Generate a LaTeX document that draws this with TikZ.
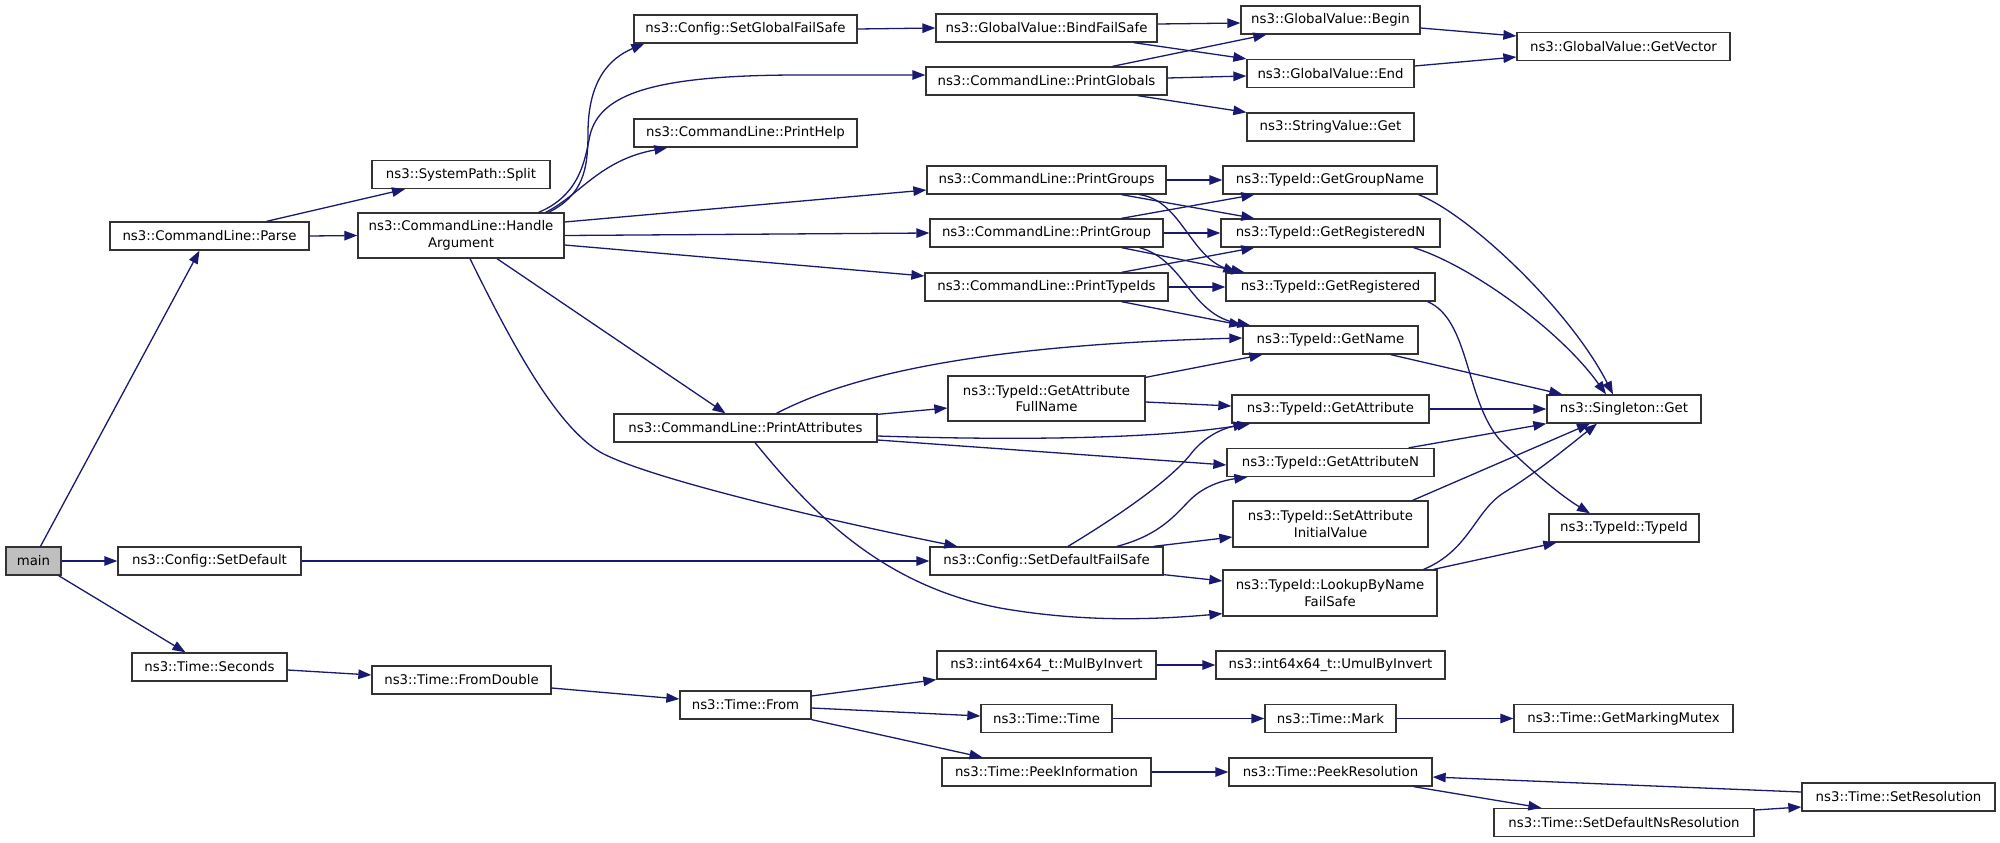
\documentclass[tikz,border=0pt]{standalone}
\usepackage{fontspec}
\setmainfont{DejaVu Sans}
\usepackage{xcolor}
\usetikzlibrary{arrows.meta}
\definecolor{edgeblue}{RGB}{25,25,112}

\begin{document}
\begin{tikzpicture}[x=1pt,y=-1pt,
  fn/.style={draw=black!80,line width=1.3pt,fill=white,minimum height=28pt,inner sep=1pt,align=center,font=\fontsize{13.3}{16.5}\selectfont},
  call/.style={draw=edgeblue,line width=1.3pt,-{Triangle[length=13pt,width=9.5pt]}}]
  \useasboundingbox (0,0) rectangle (2000,843);
  \node[fn,fill=black!25,minimum width=55pt] (main) at (33.5,561) {main};
  \node[fn,minimum width=183pt] (setdef) at (209.5,561) {ns3::Config::SetDefault};
  \node[fn,minimum width=199pt] (parse) at (209.5,236) {ns3::CommandLine::Parse};
  \node[fn,minimum width=155pt] (seconds) at (209.5,667) {ns3::Time::Seconds};
  \node[fn,minimum width=178pt] (split) at (461,174.5) {ns3::SystemPath::Split};
  \node[fn,minimum width=206pt,minimum height=45pt] (handle) at (461,235.5) {ns3::CommandLine::Handle\\Argument};
  \node[fn,minimum width=179pt] (fromdbl) at (461.5,680) {ns3::Time::FromDouble};
  \node[fn,minimum width=223pt] (setglobal) at (745.5,29) {ns3::Config::SetGlobalFailSafe};
  \node[fn,minimum width=223pt] (printhelp) at (745.5,133) {ns3::CommandLine::PrintHelp};
  \node[fn,minimum width=263pt] (printattr) at (745.5,428) {ns3::CommandLine::PrintAttributes};
  \node[fn,minimum width=131pt] (from) at (745.5,705) {ns3::Time::From};
  \node[fn,minimum width=221pt] (bind) at (1046.5,28) {ns3::GlobalValue::BindFailSafe};
  \node[fn,minimum width=241pt] (printglobals) at (1046.5,81) {ns3::CommandLine::PrintGlobals};
  \node[fn,minimum width=239pt] (printgroups) at (1046.5,180) {ns3::CommandLine::PrintGroups};
  \node[fn,minimum width=233pt] (printgroup) at (1046.5,233) {ns3::CommandLine::PrintGroup};
  \node[fn,minimum width=243pt] (printtypeids) at (1046.5,287) {ns3::CommandLine::PrintTypeIds};
  \node[fn,minimum width=197pt,minimum height=45pt] (attrfull) at (1046.5,398.5) {ns3::TypeId::GetAttribute\\FullName};
  \node[fn,minimum width=233pt] (setdeffs) at (1046.5,561) {ns3::Config::SetDefaultFailSafe};
  \node[fn,minimum width=219pt] (mulinv) at (1046.5,665) {ns3::int64x64\_t::MulByInvert};
  \node[fn,minimum width=131pt] (timetime) at (1046.5,718.5) {ns3::Time::Time};
  \node[fn,minimum width=209pt] (peekinfo) at (1046.5,772) {ns3::Time::PeekInformation};
  \node[fn,minimum width=179pt] (begin) at (1330.5,20) {ns3::GlobalValue::Begin};
  \node[fn,minimum width=167pt] (end) at (1330.5,73.5) {ns3::GlobalValue::End};
  \node[fn,minimum width=167pt] (strget) at (1330.5,127) {ns3::StringValue::Get};
  \node[fn,minimum width=214pt] (groupname) at (1330,180) {ns3::TypeId::GetGroupName};
  \node[fn,minimum width=219pt] (regn) at (1330.5,233) {ns3::TypeId::GetRegisteredN};
  \node[fn,minimum width=209pt] (reg) at (1330.5,287) {ns3::TypeId::GetRegistered};
  \node[fn,minimum width=175pt] (getname) at (1330.5,340) {ns3::TypeId::GetName};
  \node[fn,minimum width=197pt] (getattr) at (1330.5,409) {ns3::TypeId::GetAttribute};
  \node[fn,minimum width=207pt] (getattrn) at (1330.5,462.5) {ns3::TypeId::GetAttributeN};
  \node[fn,minimum width=195pt,minimum height=46pt] (setinit) at (1330.5,524) {ns3::TypeId::SetAttribute\\InitialValue};
  \node[fn,minimum width=214pt,minimum height=46pt] (lookup) at (1330,593) {ns3::TypeId::LookupByName\\FailSafe};
  \node[fn,minimum width=229pt] (umul) at (1330.5,665) {ns3::int64x64\_t::UmulByInvert};
  \node[fn,minimum width=131pt] (mark) at (1330.5,718.5) {ns3::Time::Mark};
  \node[fn,minimum width=203pt] (peekres) at (1330.5,772) {ns3::Time::PeekResolution};
  \node[fn,minimum width=213pt] (getvector) at (1623.5,46.5) {ns3::GlobalValue::GetVector};
  \node[fn,minimum width=154pt] (singleton) at (1624,409) {ns3::Singleton::Get};
  \node[fn,minimum width=150pt] (typeid) at (1624,528) {ns3::TypeId::TypeId};
  \node[fn,minimum width=219pt] (mutex) at (1623.5,718.5) {ns3::Time::GetMarkingMutex};
  \node[fn,minimum width=260pt] (setdefns) at (1624,822.5) {ns3::Time::SetDefaultNsResolution};
  \node[fn,minimum width=193pt] (setres) at (1898.5,797) {ns3::Time::SetResolution};

  \draw[call] ([xshift=7pt]main.north) -- ([xshift=-10pt]parse.south);
  \draw[call] (main.east) -- (setdef.west);
  \draw[call] ([xshift=-3pt]main.south east) -- ([xshift=-24pt]seconds.north);
  \draw[call] ([xshift=57pt]parse.north) -- ([xshift=-56pt]split.south);
  \draw[call] (parse.east) -- (handle.west);
  \draw[call] ([xshift=-16pt]handle.north east) .. controls (583,195) and (588,170) .. (588,133) .. controls (588,80) and (610,58) .. ([xshift=11pt]setglobal.south west);
  \draw[call] ([xshift=-26pt]handle.north east) .. controls (580,195) and (585,160) .. (590,135) .. controls (600,95) and (650,75) .. (800,75) -- ([yshift=6pt]printglobals.west);
  \draw[call] ([xshift=-19pt]handle.north east) .. controls (580,195) and (600,160) .. ([xshift=34pt]printhelp.south west);
  \draw[call] ([yshift=13.5pt]handle.east) -- ([yshift=-10pt]printgroups.west);
  \draw[call] (handle.east) -- (printgroup.west);
  \draw[call] ([yshift=-9.5pt]handle.east) -- ([yshift=11pt]printtypeids.west);
  \draw[call] ([xshift=36pt]handle.south) -- ([xshift=-20pt]printattr.north);
  \draw[call] ([xshift=9pt]handle.south) .. controls (510,340) and (555,425) .. (600,452) .. controls (650,480) and (850,525) .. ([xshift=28pt]setdeffs.north west);
  \draw[call] ([xshift=31pt]printattr.north) .. controls (850,375) and (980,345) .. ([yshift=2pt]getname.west);
  \draw[call] ([yshift=-1pt]printattr.north east) -- ([yshift=-9.5pt]attrfull.west);
  \draw[call] ([yshift=-8pt]printattr.east) .. controls (1000,440) and (1150,440) .. ([xshift=19pt]getattr.south west);
  \draw[call] ([yshift=-12pt]printattr.east) -- ([yshift=-2.5pt]getattrn.west);
  \draw[call] ([xshift=9.5pt]printattr.south) .. controls (810,510) and (880,585) .. (1000,608) .. controls (1080,622) and (1150,620) .. ([yshift=3pt]lookup.south west);
  \draw[call] (setdef.east) -- (setdeffs.west);
  \draw[call] (setglobal.east) -- (bind.west);
  \draw[call] ([yshift=4pt]bind.east) -- ([yshift=-3pt]begin.west);
  \draw[call] ([xshift=-24pt]bind.south east) -- (end.north west);
  \draw[call] ([xshift=66pt]printglobals.north) -- ([xshift=26pt]begin.south west);
  \draw[call] ([yshift=3pt]printglobals.east) -- ([yshift=-2.5pt]end.west);
  \draw[call] ([xshift=-30pt]printglobals.south east) -- (strget.north west);
  \draw[call] ([yshift=-8pt]begin.east) -- ([yshift=10.5pt]getvector.west);
  \draw[call] ([yshift=7.5pt]end.east) -- ([yshift=-10.5pt]getvector.west);
  \draw[call] (printgroups.east) -- (groupname.west);
  \draw[call] ([xshift=75pt]printgroups.south) -- ([xshift=34pt]regn.north west);
  \draw[call] ([xshift=93pt]printgroups.south) .. controls (1180,200) and (1190,255) .. ([xshift=11pt]reg.north west);
  \draw[call] ([xshift=75pt]printgroup.north) -- ([xshift=32pt]groupname.south west);
  \draw[call] (printgroup.east) -- (regn.west);
  \draw[call] ([xshift=75pt]printgroup.south) -- ([xshift=19pt]reg.north west);
  \draw[call] ([xshift=93pt]printgroup.south) .. controls (1185,260) and (1190,315) .. ([xshift=8pt]getname.north west);
  \draw[call] ([xshift=75pt]printtypeids.north) -- ([xshift=34pt]regn.south west);
  \draw[call] (printtypeids.east) -- (reg.west);
  \draw[call] ([xshift=75pt]printtypeids.south) -- (getname.north west);
  \draw[call] ([yshift=-2pt]attrfull.north east) -- ([xshift=20pt]getname.south west);
  \draw[call] ([yshift=-3.5pt]attrfull.east) -- ([yshift=3pt]getattr.west);
  \draw[call] ([xshift=21.5pt]setdeffs.north) .. controls (1120,515) and (1170,480) .. (1190,455) .. controls (1205,435) and (1225,428) .. ([xshift=15pt]getattr.south west);
  \draw[call] ([xshift=70.5pt]setdeffs.north) .. controls (1160,535) and (1175,515) .. (1190,500) .. controls (1205,485) and (1225,480) .. ([xshift=21pt]getattrn.south west);
  \draw[call] ([xshift=-10pt]setdeffs.north east) -- ([yshift=-13pt]setinit.west);
  \draw[call] ([yshift=1pt]setdeffs.south east) -- ([yshift=12pt]lookup.west);
  \draw[call] ([xshift=-19pt]groupname.south east) .. controls (1470,215) and (1570,310) .. ([xshift=-11pt]singleton.north);
  \draw[call] ([xshift=-27pt]regn.south east) .. controls (1470,265) and (1560,330) .. ([xshift=-18pt]singleton.north);
  \draw[call] ([xshift=-28pt]getname.south east) -- ([xshift=16pt]singleton.north west);
  \draw[call] (getattr.east) -- (singleton.west);
  \draw[call] ([xshift=-26pt]getattrn.north east) -- (singleton.south west);
  \draw[call] ([xshift=-16pt]setinit.north east) -- ([xshift=-34pt]singleton.south);
  \draw[call] ([xshift=-14pt]lookup.north east) .. controls (1470,550) and (1475,510) .. (1505,492) .. controls (1540,470) and (1570,445) .. ([xshift=-27pt]singleton.south);
  \draw[call] ([xshift=-8pt]reg.south east) .. controls (1470,320) and (1465,400) .. (1500,440) .. controls (1530,470) and (1560,495) .. ([xshift=-34pt]typeid.north);
  \draw[call] ([xshift=-4pt]lookup.north east) -- ([xshift=8pt]typeid.south west);
  \draw[call] ([yshift=-3pt]seconds.east) -- ([yshift=5pt]fromdbl.west);
  \draw[call] ([yshift=-8pt]fromdbl.east) -- ([yshift=6pt]from.west);
  \draw[call] ([yshift=9pt]from.east) -- (mulinv.south west);
  \draw[call] ([yshift=-3pt]from.east) -- ([yshift=2.5pt]timetime.west);
  \draw[call] (from.south east) -- ([xshift=-64pt]peekinfo.north);
  \draw[call] (mulinv.east) -- (umul.west);
  \draw[call] (timetime.east) -- (mark.west);
  \draw[call] (mark.east) -- (mutex.west);
  \draw[call] (peekinfo.east) -- (peekres.west);
  \draw[call] ([xshift=-19pt]peekres.south east) -- ([xshift=48pt]setdefns.north west);
  \draw[call] ([yshift=12.5pt]setdefns.east) -- ([yshift=-10pt]setres.west);
  \draw[call] ([yshift=5pt]setres.west) -- ([yshift=-5pt]peekres.east);
\end{tikzpicture}
\end{document}
